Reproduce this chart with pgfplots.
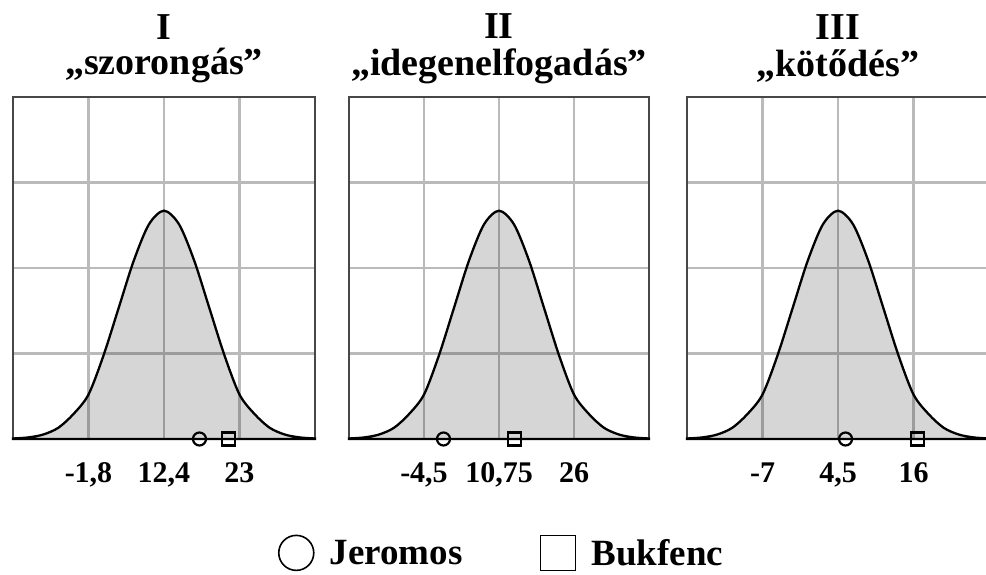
\documentclass[border=0pt]{standalone}
\usepackage{fontspec}
\setmainfont{Liberation Serif}
\usepackage{pgfplots}
\pgfplotsset{compat=1.18}

\newcommand{\titlefont}{\fontsize{38}{38}\selectfont\bfseries}
\newcommand{\tickfont}{\fontsize{30}{30}\selectfont\bfseries}

\pgfplotsset{
  panel/.style={
    scale only axis, height=342pt,
    xmin=0, xmax=4, ymin=0, ymax=4,
    xtick={1,2,3}, ytick={1,2,3}, yticklabels={},
    grid=major, major grid style={line width=2.2pt, color=black!27},
    major tick length=0pt,
    axis line style={line width=1.8pt, color=black!72},
    clip=false,
    xticklabel style={font=\tickfont, anchor=base, yshift=-44pt},
  },
  curve/.style={draw=black, line width=2.3pt, fill=black, fill opacity=0.16, smooth},
  circ/.style={only marks, mark=o, mark size=6.5pt, line width=2.2pt, black},
  sq/.style={only marks, mark=square, mark size=6.5pt, line width=2.2pt, black},
}

\begin{document}
\begin{tikzpicture}
\useasboundingbox (0,0) rectangle (986pt,575pt);

% ---------- Panel I ----------
\begin{axis}[panel, width=302pt, at={(13pt,136pt)}, anchor=south west,
  xticklabels={{-1,8},{12,4},{23}}]
\addplot[curve] coordinates {
(0,0.006) (0.2,0.018) (0.4,0.052) (0.6,0.131) (0.8,0.291) (1.0,0.52)
(1.2,0.98) (1.4,1.534) (1.6,2.087) (1.8,2.51) (2.0,2.67)
(2.2,2.51) (2.4,2.087) (2.6,1.534) (2.8,0.98) (3.0,0.52)
(3.2,0.291) (3.4,0.131) (3.6,0.052) (3.8,0.018) (4.0,0.006)} \closedcycle;
\addplot[circ] coordinates {(2.47,0)};
\addplot[sq] coordinates {(2.85,0)};
\node[anchor=base, font=\titlefont] at (rel axis cs:0.5,1) [yshift=57pt] {I};
\node[anchor=base, font=\titlefont] at (rel axis cs:0.5,1) [yshift=22pt] {„szorongás”};
\end{axis}

% ---------- Panel II ----------
\begin{axis}[panel, width=300pt, at={(349pt,136pt)}, anchor=south west,
  xticklabels={{-4,5},{10,75},{26}},
  legend columns=2,
  legend style={at={(0.51,-0.333)}, anchor=center, draw=none, fill=none,
    font=\fontsize{37}{37}\selectfont\bfseries,
    /tikz/every even column/.append style={column sep=76pt}},
  legend image code/.code={%
    \path[draw=none, fill=none] (0pt,-18pt) rectangle (49pt,18pt);
    \draw[#1, mark size=17.5pt, line width=1.6pt] plot coordinates {(17.5pt,0pt)};}]
\addplot[curve, forget plot] coordinates {
(0,0.006) (0.2,0.018) (0.4,0.052) (0.6,0.131) (0.8,0.291) (1.0,0.52)
(1.2,0.98) (1.4,1.534) (1.6,2.087) (1.8,2.51) (2.0,2.67)
(2.2,2.51) (2.4,2.087) (2.6,1.534) (2.8,0.98) (3.0,0.52)
(3.2,0.291) (3.4,0.131) (3.6,0.052) (3.8,0.018) (4.0,0.006)} \closedcycle;
\addplot[circ] coordinates {(1.26,0)};
\addlegendentry{Jeromos}
\addplot[sq] coordinates {(2.21,0)};
\addlegendentry{Bukfenc}
\node[anchor=base, font=\titlefont] at (rel axis cs:0.5,1) [yshift=58pt] {II};
\node[anchor=base, font=\titlefont] at (rel axis cs:0.5,1) [yshift=21pt] {„idegenelfogadás”};
\end{axis}

% ---------- Panel III ----------
\begin{axis}[panel, width=302pt, at={(687pt,136pt)}, anchor=south west,
  xticklabels={{-7},{4,5},{16}}]
\addplot[curve] coordinates {
(0,0.006) (0.2,0.018) (0.4,0.052) (0.6,0.131) (0.8,0.291) (1.0,0.52)
(1.2,0.98) (1.4,1.534) (1.6,2.087) (1.8,2.51) (2.0,2.67)
(2.2,2.51) (2.4,2.087) (2.6,1.534) (2.8,0.98) (3.0,0.52)
(3.2,0.291) (3.4,0.131) (3.6,0.052) (3.8,0.018) (4.0,0.006)} \closedcycle;
\addplot[circ] coordinates {(2.10,0)};
\addplot[sq] coordinates {(3.05,0)};
\node[anchor=base, font=\titlefont] at (rel axis cs:0.5,1) [yshift=57pt] {III};
\node[anchor=base, font=\titlefont] at (rel axis cs:0.5,1) [yshift=20pt] {„kötődés”};
\end{axis}
\end{tikzpicture}
\end{document}
